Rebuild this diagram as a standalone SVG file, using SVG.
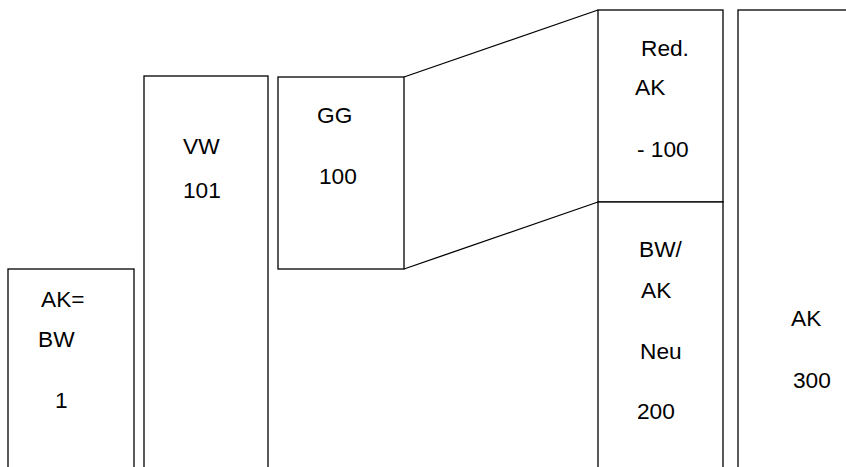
<svg xmlns="http://www.w3.org/2000/svg" width="846" height="467" viewBox="0 0 846 467">
<style>
.b{fill:#fff;stroke:#000;stroke-width:1.3}
.l{fill:none;stroke:#000;stroke-width:1.3}
text{font-family:"Liberation Sans",Arial,sans-serif;font-size:22.7px;fill:#000}
</style>
<rect width="846" height="467" fill="#fff"/>
<g id="n-akbw"><rect class="b" x="8" y="269" width="126" height="210"/>
<text x="41" y="307">AK=</text><text x="38" y="347">BW</text><text x="55" y="408">1</text></g>
<g id="n-vw"><rect class="b" x="144" y="76" width="124" height="400"/>
<text x="183" y="154">VW</text><text x="183" y="198">101</text></g>
<g id="n-gg"><rect class="b" x="278" y="77" width="126" height="192"/>
<text x="317" y="123">GG</text><text x="319" y="184">100</text></g>
<g id="n-red"><rect class="b" x="598" y="10" width="125" height="192"/>
<text x="641" y="56">Red.</text><text x="635" y="95">AK</text><text x="637" y="157">- 100</text></g>
<g id="n-bwak"><rect class="b" x="598" y="202" width="125" height="280"/>
<text x="639" y="257">BW/</text><text x="641" y="298">AK</text><text x="640" y="359">Neu</text><text x="637" y="419">200</text></g>
<g id="n-ak"><rect class="b" x="738" y="10" width="120" height="470"/>
<text x="791" y="326">AK</text><text x="793" y="388">300</text></g>
<g id="connectors">
<line class="l" x1="404" y1="77" x2="598" y2="10"/>
<line class="l" x1="404" y1="269" x2="598" y2="202"/>
</g>
</svg>
